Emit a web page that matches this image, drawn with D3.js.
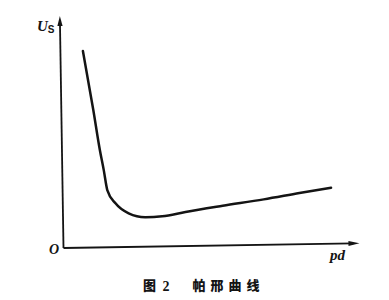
<!DOCTYPE html>
<html><head><meta charset="utf-8">
<script src="https://cdn.jsdelivr.net/npm/d3@7/dist/d3.min.js"></script>
<style>body{margin:0;background:#fff}svg{display:block}</style>
</head><body>
<svg id="c" width="389" height="300"></svg>
<script>
// Paschen curve: pd (x) vs breakdown voltage Us (y), arbitrary units
const pd = [0.76, 1.08, 1.28, 1.40, 1.51, 1.78, 2.22, 2.79, 3.35, 4.14, 5.40, 6.79, 8.00, 9.07];
const Us = [8.48, 5.93, 4.20, 3.34, 2.47, 1.89, 1.45, 1.27, 1.30, 1.47, 1.71, 1.96, 2.21, 2.42];
const xLabel = "pd";
const yLabel = "U";
const ySub = "S";
const originLabel = "O";
const captionFig = "图";
const captionNum = "2";
const captionText = "帕邢曲线";

const svg = d3.select("#c");
const x = d3.scaleLinear().domain([0, 10]).range([63.5, 359.5]);
const y = d3.scaleLinear().domain([0, 10]).range([248, 16]);

const g = svg.append("g").attr("transform", "rotate(-0.9,63.5,248)");
const ink = "#141414";

// axes
g.append("line").attr("x1", x(0)).attr("y1", y(0)).attr("x2", x(0)).attr("y2", y(10) + 6)
  .attr("stroke", ink).attr("stroke-width", 1.8);
g.append("line").attr("x1", x(0)).attr("y1", y(0)).attr("x2", x(10) - 6).attr("y2", y(0))
  .attr("stroke", ink).attr("stroke-width", 1.8);
// arrowheads
g.append("path").attr("d", `M${x(0)},${y(10)} L${x(0)-2.6},${y(10)+10} L${x(0)+2.6},${y(10)+10} Z`).attr("fill", ink);
g.append("path").attr("d", `M${x(10)},${y(0)} L${x(10)-11},${y(0)-2.6} L${x(10)-11},${y(0)+2.6} Z`).attr("fill", ink);

// curve
const line = d3.line().x((d, i) => x(pd[i])).y((d, i) => y(Us[i])).curve(d3.curveMonotoneX);
g.append("path").datum(pd).attr("d", line).attr("fill", "none")
  .attr("stroke", ink).attr("stroke-width", 2.5).attr("stroke-linecap", "round").attr("stroke-linejoin", "round");

// labels (screen coords)
const serif = "'Liberation Serif','DejaVu Serif',serif";
const yl = svg.append("text").attr("x", 37).attr("y", 31).attr("font-family", serif)
  .attr("font-style", "italic").attr("font-weight", "bold").attr("font-size", 15).attr("fill", ink);
yl.append("tspan").text(yLabel);
yl.append("tspan").attr("font-family", "'Liberation Sans',sans-serif").attr("font-style", "normal")
  .attr("font-weight", "bold").attr("font-size", 10).attr("dy", 2).text(ySub);

svg.append("text").attr("x", 54).attr("y", 253.5).attr("text-anchor", "middle").attr("font-family", serif)
  .attr("font-style", "italic").attr("font-weight", "bold").attr("font-size", 14).attr("fill", ink).text(originLabel);

svg.append("text").attr("x", 330).attr("y", 260).attr("font-family", serif)
  .attr("font-style", "italic").attr("font-weight", "bold").attr("font-size", 15).attr("fill", ink).text(xLabel);

const cjk = "'Noto Sans CJK SC',sans-serif";
svg.append("text").attr("x", 143).attr("y", 290).attr("font-family", cjk).attr("font-weight", "900")
  .attr("font-size", 13).attr("fill", ink).text(captionFig);
svg.append("text").attr("x", 162.5).attr("y", 290.5).attr("font-family", serif).attr("font-weight", "bold")
  .attr("font-size", 14).attr("fill", ink).text(captionNum);
svg.append("text").attr("x", 192.5).attr("y", 290).attr("font-family", cjk).attr("font-weight", "900")
  .attr("font-size", 13).attr("letter-spacing", 5).attr("fill", ink).text(captionText);
</script>
</body></html>
